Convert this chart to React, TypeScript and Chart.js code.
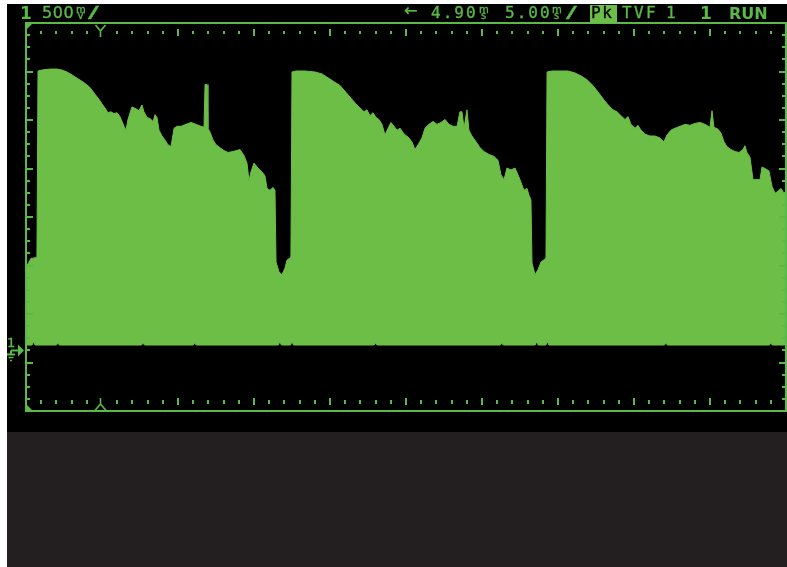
import React, { useEffect, useRef } from "react";
import { Chart, registerables } from "chart.js";

Chart.register(...registerables);

// ---- data (time in ms, amplitude in V) ----
const upperTimes = [
  0.0, 0.2, 0.33, 0.46, 0.72, 0.79, 1.05, 1.58, 2.04, 2.37, 2.7, 3.03, 3.42, 3.82, 4.21, 4.54, 4.8, 5.0, 5.2, 5.39,
  5.59, 5.79, 5.99, 6.18, 6.45, 6.58, 6.71, 6.97, 7.24, 7.43, 7.63, 7.76, 7.96, 8.16, 8.36, 8.49, 8.62, 8.75, 8.95, 9.14,
  9.34, 9.54, 9.74, 9.93, 10.2, 10.53, 10.86, 11.18, 11.51, 11.71, 11.78, 11.91, 11.97, 12.11, 12.3, 12.5, 12.76, 13.03, 13.29, 13.62,
  14.08, 14.34, 14.54, 14.67, 14.8, 15.0, 15.26, 15.53, 15.72, 15.86, 16.05, 16.25, 16.38, 16.45, 16.64, 16.84, 17.04, 17.17, 17.43, 17.5,
  17.76, 18.36, 19.01, 19.47, 19.87, 20.26, 20.66, 21.05, 21.38, 21.71, 21.97, 22.24, 22.43, 22.63, 22.83, 23.03, 23.22, 23.42, 23.62, 23.82,
  24.01, 24.21, 24.41, 24.61, 24.87, 25.13, 25.39, 25.59, 25.79, 26.05, 26.25, 26.51, 26.78, 27.04, 27.3, 27.57, 27.83, 28.09, 28.36, 28.55,
  28.68, 28.82, 29.01, 29.14, 29.34, 29.61, 29.87, 30.13, 30.46, 30.79, 31.05, 31.25, 31.45, 31.64, 31.91, 32.17, 32.37, 32.57, 32.76, 32.96,
  33.09, 33.22, 33.29, 33.49, 33.68, 33.88, 34.21, 34.28,
  34.61, 35.13, 35.66, 36.12, 36.51, 36.91, 37.3, 37.7, 38.03, 38.36, 38.62, 38.88, 39.14, 39.41, 39.61, 39.8, 40.07, 40.26, 40.46, 40.72,
  41.05, 41.38, 41.71, 41.97, 42.17, 42.43, 42.7, 43.03, 43.36, 43.68, 44.01, 44.34, 44.67, 45.0, 45.13, 45.26, 45.53, 45.72, 45.92, 46.12,
  46.38, 46.64, 46.91, 47.17, 47.3, 47.43, 47.63, 47.83, 48.09, 48.29, 48.42, 48.68, 48.88, 49.08, 49.28, 49.47, 49.67, 49.87, 50.0,
];
const upperVolts = [
  0.86, 0.91, 0.95, 0.95, 0.96, 2.88, 2.89, 2.9, 2.9, 2.89, 2.87, 2.84, 2.8, 2.76, 2.71, 2.64, 2.59, 2.54, 2.5, 2.45,
  2.46, 2.44, 2.45, 2.41, 2.31, 2.27, 2.38, 2.51, 2.49, 2.47, 2.53, 2.46, 2.4, 2.39, 2.36, 2.43, 2.4, 2.27, 2.21, 2.17,
  2.12, 2.1, 2.29, 2.31, 2.31, 2.33, 2.35, 2.33, 2.31, 2.3, 2.74, 2.74, 2.29, 2.25, 2.17, 2.12, 2.09, 2.06, 2.04, 2.05,
  2.07, 2.01, 1.93, 1.75, 1.84, 1.93, 1.88, 1.84, 1.8, 1.67, 1.65, 1.68, 1.65, 0.91, 0.81, 0.78, 0.85, 0.93, 0.96, 2.87,
  2.88, 2.88, 2.87, 2.85, 2.81, 2.77, 2.73, 2.66, 2.6, 2.54, 2.5, 2.46, 2.48, 2.42, 2.45, 2.4, 2.38, 2.33, 2.22, 2.29,
  2.35, 2.31, 2.27, 2.29, 2.23, 2.2, 2.15, 2.07, 2.12, 2.19, 2.29, 2.33, 2.36, 2.33, 2.35, 2.38, 2.33, 2.31, 2.31, 2.46,
  2.46, 2.29, 2.48, 2.27, 2.21, 2.15, 2.09, 2.05, 2.02, 2.0, 1.96, 1.81, 1.76, 1.88, 1.86, 1.88, 1.81, 1.73, 1.65, 1.67,
  1.6, 1.55, 0.9, 0.78, 0.83, 0.91, 0.95, 2.87,
  2.88, 2.88, 2.88, 2.86, 2.83, 2.79, 2.73, 2.65, 2.58, 2.52, 2.48, 2.46, 2.42, 2.38, 2.41, 2.33, 2.29, 2.32, 2.27, 2.23,
  2.21, 2.21, 2.19, 2.15, 2.22, 2.27, 2.29, 2.31, 2.33, 2.32, 2.34, 2.35, 2.33, 2.3, 2.47, 2.3, 2.28, 2.24, 2.15, 2.1,
  2.07, 2.05, 2.04, 2.07, 2.11, 2.04, 1.99, 1.76, 1.76, 1.76, 1.89, 1.87, 1.85, 1.69, 1.62, 1.64, 1.67, 1.62, 1.6,
];
const lowerTimes = [
  0, 0.4, 0.5, 0.6, 2.0, 2.1, 2.2, 7.6, 7.7, 7.8, 11.0, 11.1, 11.2, 16.6, 16.7, 16.8, 17.4, 17.5, 17.6, 22.9,
  23.0, 23.1, 31.2, 31.3, 31.4, 33.5, 33.6, 33.7, 34.2, 34.3, 34.4, 42.0, 42.1, 42.2, 48.9, 49.0, 49.1, 50.0,
];
const lowerVolts = [
  0.055, 0.055, 0.09, 0.055, 0.055, 0.075, 0.055, 0.055, 0.075, 0.055, 0.055, 0.075, 0.055, 0.055, 0.09, 0.055, 0.055, 0.09, 0.055, 0.055,
  0.075, 0.055, 0.055, 0.075, 0.055, 0.055, 0.09, 0.055, 0.055, 0.09, 0.055, 0.055, 0.075, 0.055, 0.055, 0.075, 0.055, 0.055,
];

// ---- scope settings ----
const TIME_MIN = 0;
const TIME_MAX = 50; // 10 div x 5.00 ms/div
const TIME_SUB = 1;
const VOLT_MIN = -0.625;
const VOLT_MAX = 3.375; // 8 div x 500 mV/div
const VOLT_SUB = 0.125;
const TRIGGER_TIME = 4.9;

const FILL = "#6dbe46";
const LINE = "#5ab947";

const scopePlugin = {
  id: "scope",
  beforeDraw(chart: any) {
    const { ctx, chartArea: a, width, height } = chart;
    ctx.save();
    ctx.fillStyle = "#ffffff";
    ctx.fillRect(0, 0, width, height);
    const l = a.left - 19;
    const t = a.top - 19;
    const b = a.bottom + 21;
    ctx.fillStyle = "#000000";
    ctx.fillRect(l, t, width - l, b - t);
    ctx.fillStyle = "#231f20";
    ctx.fillRect(l, b, width - l, height - b);
    ctx.restore();
  },
  afterDatasetsDraw(chart: any) {
    const { ctx, chartArea: a, scales } = chart;
    const xs = scales.x;
    const ys = scales.y;
    ctx.save();
    ctx.fillStyle = LINE;
    ctx.strokeStyle = LINE;
    // horizontal graticule dots
    const nx = Math.round((TIME_MAX - TIME_MIN) / TIME_SUB);
    for (let i = 1; i < nx; i++) {
      const tv = TIME_MIN + i * TIME_SUB;
      if (Math.abs(tv - TRIGGER_TIME) < 0.5) continue;
      const px = Math.round(xs.getPixelForValue(tv));
      if (i % 5 === 0) {
        ctx.fillRect(px - 1, a.top + 6, 2, 7);
        ctx.fillRect(px - 1, a.bottom - 13, 2, 7);
      } else {
        ctx.fillRect(px - 1, a.top + 8, 2, 3);
        ctx.fillRect(px - 1, a.bottom - 11, 2, 4);
      }
    }
    // vertical edge ticks
    const ny = Math.round((VOLT_MAX - VOLT_MIN) / VOLT_SUB);
    for (let i = 1; i < ny; i++) {
      const v = VOLT_MIN + i * VOLT_SUB;
      const py = Math.round(ys.getPixelForValue(v));
      const len = i % 4 === 0 ? 7 : 4;
      ctx.fillRect(a.left, py - 1, len, 2);
      ctx.fillRect(a.right - len, py - 1, len, 2);
    }
    // frame
    ctx.lineWidth = 2;
    ctx.strokeRect(a.left, a.top, a.right - a.left, a.bottom - a.top);
    // corner markers
    ctx.beginPath();
    ctx.moveTo(a.left, a.top);
    ctx.lineTo(a.left + 7, a.top);
    ctx.lineTo(a.left, a.top + 7);
    ctx.closePath();
    ctx.fill();
    ctx.beginPath();
    ctx.moveTo(a.left, a.bottom);
    ctx.lineTo(a.left + 7, a.bottom);
    ctx.lineTo(a.left, a.bottom - 7);
    ctx.closePath();
    ctx.fill();
    // trigger markers
    const tx = Math.round(xs.getPixelForValue(TRIGGER_TIME)) + 0.5;
    ctx.lineWidth = 1.6;
    ctx.beginPath();
    ctx.moveTo(tx - 5, a.top + 2);
    ctx.lineTo(tx, a.top + 8);
    ctx.lineTo(tx + 5, a.top + 2);
    ctx.moveTo(tx, a.top + 8);
    ctx.lineTo(tx, a.top + 14);
    ctx.stroke();
    ctx.beginPath();
    ctx.moveTo(tx, a.bottom - 13);
    ctx.lineTo(tx, a.bottom - 7);
    ctx.moveTo(tx - 6, a.bottom);
    ctx.lineTo(tx, a.bottom - 7);
    ctx.lineTo(tx + 6, a.bottom);
    ctx.stroke();
    // ground reference marker
    const gy = Math.round(ys.getPixelForValue(0)) + 0.5;
    ctx.lineWidth = 2;
    ctx.beginPath();
    ctx.moveTo(11, gy);
    ctx.lineTo(19, gy);
    ctx.moveTo(11, gy);
    ctx.lineTo(11, gy + 4);
    ctx.moveTo(7, gy + 4);
    ctx.lineTo(15, gy + 4);
    ctx.stroke();
    ctx.lineWidth = 1.5;
    ctx.beginPath();
    ctx.moveTo(8.5, gy + 7);
    ctx.lineTo(13.5, gy + 7);
    ctx.moveTo(10, gy + 10);
    ctx.lineTo(12, gy + 10);
    ctx.stroke();
    ctx.beginPath();
    ctx.moveTo(18, gy - 6);
    ctx.lineTo(24, gy);
    ctx.lineTo(18, gy + 6);
    ctx.closePath();
    ctx.fill();
    ctx.restore();
  },
};

type TProps = {
  x: number;
  base: number;
  size: number;
  bold?: boolean;
  mono?: boolean;
  ls?: number;
  color?: string;
  sx?: number;
  children: React.ReactNode;
};

function T({ x, base, size, bold, mono, ls, color, sx, children }: TProps) {
  const c = color ?? LINE;
  return (
    <span
      style={{
        position: "absolute",
        left: x,
        top: base - 0.846 * size,
        fontFamily: mono ? "'DejaVu Sans Mono', monospace" : "'DejaVu Sans', sans-serif",
        fontSize: size,
        lineHeight: `${size}px`,
        fontWeight: bold ? "bold" : "normal",
        letterSpacing: ls ?? 0,
        color: c,
        whiteSpace: "pre",
        WebkitTextStroke: bold ? undefined : `0.35px ${c}`,
        transform: sx ? `scaleX(${sx})` : undefined,
        transformOrigin: "left center",
      }}
    >
      {children}
    </span>
  );
}

export default function App() {
  const ref = useRef<HTMLCanvasElement>(null);

  useEffect(() => {
    if (!ref.current) return;
    const upper = upperTimes.map((t, i) => ({ x: t, y: upperVolts[i] }));
    const lower = lowerTimes.map((t, i) => ({ x: t, y: lowerVolts[i] }));
    const chart = new Chart(ref.current, {
      type: "line",
      data: {
        datasets: [
          {
            data: upper,
            borderColor: FILL,
            backgroundColor: FILL,
            borderWidth: 1,
            pointRadius: 0,
            tension: 0,
            fill: 1,
          },
          {
            data: lower,
            borderColor: FILL,
            backgroundColor: FILL,
            borderWidth: 1,
            pointRadius: 0,
            tension: 0,
            fill: false,
          },
        ],
      },
      options: {
        animation: false,
        responsive: false,
        devicePixelRatio: 1,
        layout: { padding: { left: 26, top: 23, right: 1, bottom: 156 } },
        plugins: { legend: { display: false }, tooltip: { enabled: false } },
        scales: {
          x: { type: "linear", min: TIME_MIN, max: TIME_MAX, display: false },
          y: { type: "linear", min: VOLT_MIN, max: VOLT_MAX, display: false },
        },
      },
      plugins: [scopePlugin],
    } as any);
    return () => chart.destroy();
  }, []);

  return (
    <div style={{ position: "fixed", left: 0, top: 0, width: 787, height: 567, overflow: "hidden" }}>
      <canvas ref={ref} width={787} height={567} style={{ display: "block", width: 787, height: 567 }} />
      {/* channel scale */}
      <T x={20} base={19} size={17} bold>1</T>
      <T x={42} base={18.5} size={16} ls={0.6}>500</T>
      <T x={76} base={13} size={10}>m</T>
      <T x={77.5} base={19.5} size={9}>V</T>
      <T x={88} base={18.5} size={16} sx={2}>/</T>
      {/* time base */}
      <T x={404} base={17} size={16}>←</T>
      <T x={431} base={18.5} size={16} mono ls={2}>4.90</T>
      <T x={479} base={13} size={10}>m</T>
      <T x={481} base={19.5} size={10}>s</T>
      <T x={505} base={18.5} size={16} mono ls={2}>5.00</T>
      <T x={552} base={13} size={10}>m</T>
      <T x={554} base={19.5} size={10}>s</T>
      <T x={566} base={18.5} size={16} sx={2}>/</T>
      <div style={{ position: "absolute", left: 590, top: 5, width: 27, height: 18, background: FILL }} />
      <T x={591} base={19} size={16} mono ls={1.5} color="#000000">Pk</T>
      <T x={622} base={18.5} size={16} mono ls={2.4}>TVF</T>
      <T x={666} base={18.5} size={16} mono>1</T>
      <T x={700} base={19.5} size={17} bold>1</T>
      <T x={729} base={19.5} size={16} bold>RUN</T>
      {/* ground marker label */}
      <T x={7} base={347} size={13}>1</T>
    </div>
  );
}
